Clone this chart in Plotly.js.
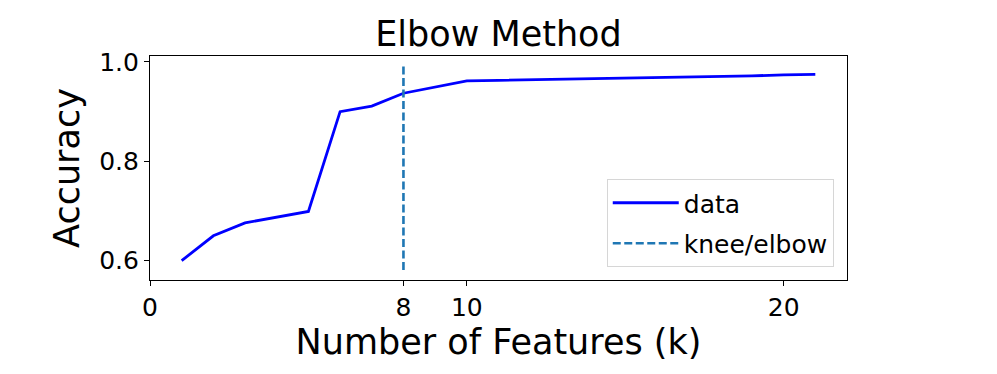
<!DOCTYPE html>
<html>
<head>
<meta charset="utf-8">
<script src="https://cdn.plot.ly/plotly-3.0.1.min.js"></script>
<style>
  body { margin: 0; padding: 0; background: #fff; }
  #plot { width: 997px; height: 374px; }
</style>
</head>
<body>
<div id="plot"></div>
<script>
// number of features tried
var kValues = [1, 2, 3, 4, 5, 6, 7, 8, 9, 10, 11, 12, 13, 14, 15, 16, 17, 18, 19, 20, 21];
// accuracy
var accuracy = [0.600, 0.650, 0.676, 0.688, 0.699, 0.900, 0.911, 0.937, 0.950, 0.962,
                0.963, 0.964, 0.965, 0.966, 0.967, 0.969, 0.970, 0.971, 0.972, 0.974, 0.975];

// knee found at k = 8, line spans the old y limits
var kneeX = [8, 8];
var kneeY = [0.581, 0.994];

var xTicks = [0, 8, 10, 20];
var yTicks = [0.6, 0.8, 1.0];

var font = "DejaVu Sans, sans-serif";

var trace1 = {
  x: kValues,
  y: accuracy,
  name: "data",
  legendgroup: "a",
  mode: "lines",
  line: { color: "#0000ff", width: 2.8 },
  type: "scatter"
};

var trace2 = {
  x: kneeX,
  y: kneeY,
  name: "knee/elbow",
  legendgroup: "b",
  mode: "lines",
  line: { color: "#1f77b4", width: 2.6, dash: "8px,3.5px" },
  type: "scatter"
};

var data = [trace1, trace2];

var layout = {
  width: 997,
  height: 374,
  margin: { l: 150, r: 150, t: 56, b: 94 },
  paper_bgcolor: "#fff",
  plot_bgcolor: "#fff",
  font: { family: font, color: "#000" },
  title: {
    text: "Elbow Method",
    font: { size: 35, family: font },
    x: 0.5,
    xref: "paper",
    y: 1,
    yref: "paper",
    yanchor: "bottom",
    pad: { b: 10 }
  },
  xaxis: {
    range: [0, 22],
    tickvals: xTicks,
    ticktext: xTicks.map(String),
    ticks: "outside",
    ticklen: 5,
    tickwidth: 1.2,
    tickcolor: "#000",
    tickfont: { size: 25 },
    showline: true,
    linecolor: "#000",
    linewidth: 1.2,
    mirror: true,
    showgrid: false,
    zeroline: false,
    title: { text: "Number of Features (k)", font: { size: 35 }, standoff: 3 }
  },
  yaxis: {
    range: [0.561, 1.012],
    tickvals: yTicks,
    ticktext: yTicks.map(function (v) { return v.toFixed(1); }),
    ticks: "outside",
    ticklen: 5,
    tickwidth: 1.2,
    tickcolor: "#000",
    tickfont: { size: 25 },
    showline: true,
    linecolor: "#000",
    linewidth: 1.2,
    mirror: true,
    showgrid: false,
    zeroline: false,
    title: { text: "Accuracy", font: { size: 35 }, standoff: 8 }
  },
  showlegend: true,
  legend: {
    x: 0.981,
    xanchor: "right",
    y: 0.058,
    yanchor: "bottom",
    traceorder: "grouped",
    tracegroupgap: 5,
    itemwidth: 66,
    bgcolor: "rgba(255,255,255,0.8)",
    bordercolor: "#d6d6d6",
    borderwidth: 1,
    font: { size: 25 }
  }
};

Plotly.newPlot("plot", data, layout, { displayModeBar: false });
</script>
</body>
</html>
